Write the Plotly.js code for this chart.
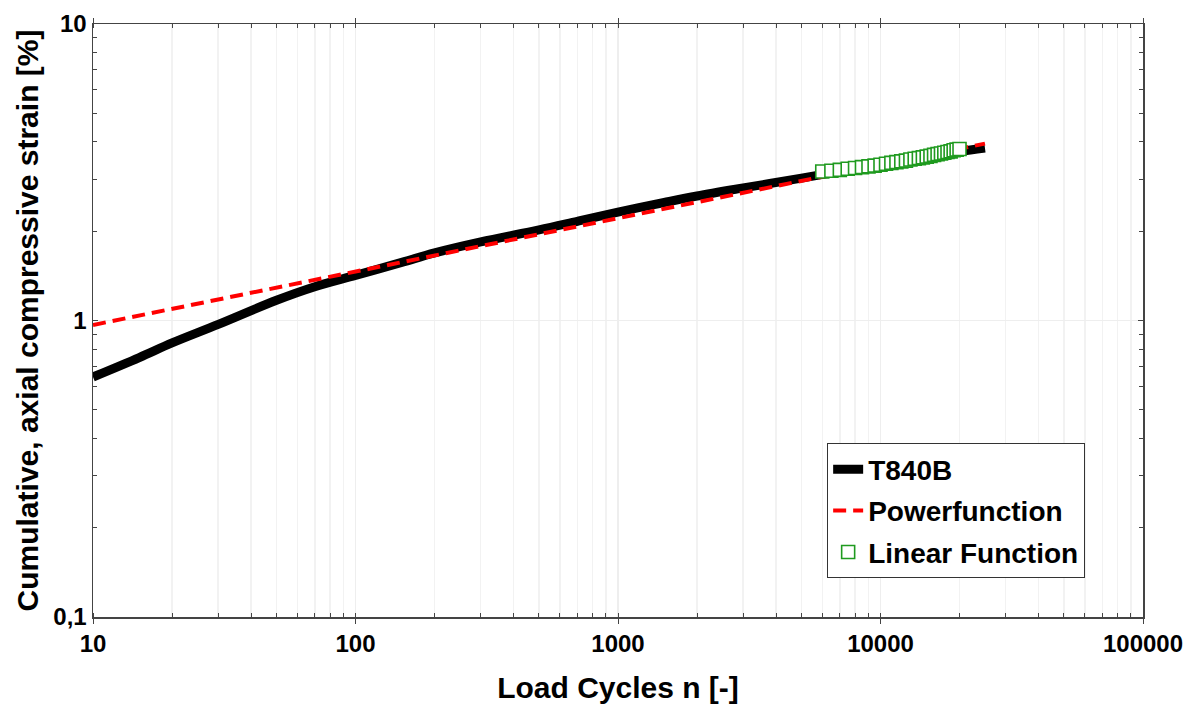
<!DOCTYPE html>
<html>
<head>
<meta charset="utf-8">
<script src="https://cdn.plot.ly/plotly-3.0.1.min.js"></script>
<style>html,body{margin:0;padding:0;background:#fff;}#chart{width:1196px;height:704px;}</style>
</head>
<body>
<div id="chart"></div>
<script>
// Measured curve T840B
const measuredN = [10, 15, 20, 30, 50, 70, 100, 150, 200, 300, 500, 700, 1000, 1500, 2000, 3000, 5000, 7000, 10000, 15000, 20000, 25000];
const measuredStrain = [0.645, 0.75, 0.84, 0.97, 1.17, 1.30, 1.42, 1.57, 1.69, 1.84, 2.02, 2.16, 2.32, 2.50, 2.63, 2.80, 3.02, 3.18, 3.34, 3.58, 3.72, 3.82];
// Power function fit
const powerN = [10, 100, 1000, 10000, 25000];
const powerStrain = [0.966, 1.462, 2.214, 3.352, 3.95];
// Linear function fit
const linearN = [6000, 6500, 7000, 7500, 8000, 8500, 9000, 9500, 10000, 10500, 11000, 11500, 12000, 12500, 13000, 13500, 14000, 14500, 15000, 15500, 16000, 16500, 17000, 17500, 18000, 18500, 19000, 19500, 20000];
const linearStrain = [3.18, 3.20, 3.22, 3.25, 3.27, 3.29, 3.31, 3.33, 3.35, 3.38, 3.40, 3.42, 3.44, 3.46, 3.49, 3.51, 3.53, 3.55, 3.57, 3.59, 3.62, 3.64, 3.66, 3.68, 3.70, 3.72, 3.75, 3.77, 3.79];
// Tick labels
const xTickVals = [10, 100, 1000, 10000, 100000];
const xTickText = ['10', '100', '1000', '10000', '100000'];
const yTickVals = [0.1, 1, 10];
const yTickText = ['0,1', '1', '10'];

const FONT = 'Liberation Sans, Arial, sans-serif';

const traces = [
  {x: measuredN, y: measuredStrain, name: 'T840B', legendgroup: 'g1', type: 'scatter', mode: 'lines',
   line: {color: '#000000', width: 9, shape: 'spline'}},
  {x: powerN, y: powerStrain, name: 'Powerfunction', legendgroup: 'g2', type: 'scatter', mode: 'lines',
   line: {color: '#ff0000', width: 4, dash: '13px,7px'}},
  {x: linearN, y: linearStrain, name: 'Linear Function', legendgroup: 'g3', type: 'scatter', mode: 'markers',
   marker: {symbol: 'square', size: 13, color: '#ffffff', line: {width: 1.6, color: '#1f9a1f'}}}
];

const axisBase = {
  type: 'log', showline: true, linecolor: '#444', linewidth: 1.5, mirror: 'ticks',
  tickcolor: '#444', zeroline: false,
  tickfont: {family: FONT, size: 24, color: '#000', weight: 'bold'}
};

const layout = {
  width: 1196, height: 704,
  margin: {l: 93, r: 53, t: 24, b: 87},
  paper_bgcolor: '#fff', plot_bgcolor: '#fff',
  showlegend: true,
  xaxis: Object.assign({}, axisBase, {
    range: [1, 5], tickvals: xTickVals, ticktext: xTickText,
    ticks: 'outside', ticklen: 5,
    showgrid: true, gridcolor: '#eeeeee', gridwidth: 1.5,
    minor: {dtick: 'D1', showgrid: true, gridcolor: '#f2f2f2', gridwidth: 1.5, ticks: 'inside', ticklen: 4, tickcolor: '#444'},
    title: {text: 'Load Cycles n [-]', font: {family: FONT, size: 30, color: '#000', weight: 'bold'}, standoff: 22}
  }),
  yaxis: Object.assign({}, axisBase, {
    range: [-1, 1], tickvals: yTickVals, ticktext: yTickText,
    ticks: 'inside', ticklen: 5,
    showgrid: true, gridcolor: '#eeeeee', gridwidth: 1.5,
    minor: {dtick: 'D1', showgrid: false, ticks: 'inside', ticklen: 4, tickcolor: '#444'},
    title: {text: 'Cumulative, axial compressive strain [%]', font: {family: FONT, size: 30, color: '#000', weight: 'bold'}, standoff: 6}
  }),
  legend: {
    x: 0.699, y: 0.293, xanchor: 'left', yanchor: 'top',
    bgcolor: '#fff', bordercolor: '#333', borderwidth: 1.2,
    font: {family: FONT, size: 28, color: '#000', weight: 'bold'},
    itemwidth: 30, tracegroupgap: 2
  }
};

Plotly.newPlot('chart', traces, layout, {displayModeBar: false, staticPlot: true});
</script>
</body>
</html>
